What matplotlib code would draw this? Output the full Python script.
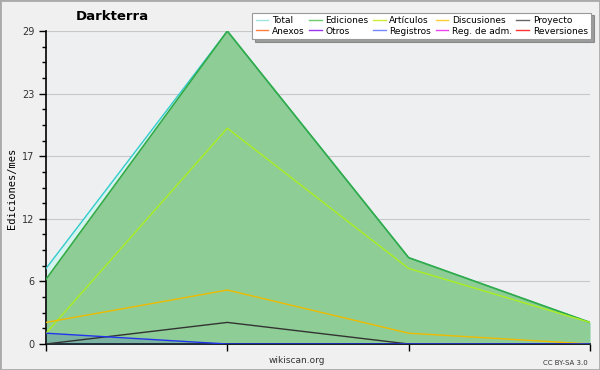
import numpy as np
import matplotlib.pyplot as plt
from matplotlib.lines import Line2D

# monthly edit counts (4 months)
months = [0, 1, 2, 3]
total = [7, 29, 8, 2]
ediciones = [6, 29, 8, 2]
articulos = [1, 20, 7, 2]
discusiones = [2, 5, 1, 0]
proyecto = [0, 2, 0, 0]
registros = [1, 0, 0, 0]

legend_names = ["Total", "Anexos", "Ediciones", "Otros", "Artículos", "Registros",
                "Discusiones", "Reg. de adm.", "Proyecto", "Reversiones"]
legend_colors = ["#9fe3e3", "#ff7f3f", "#6ccc6c", "#9933ee", "#ccee33", "#7788ff",
                 "#ffcc33", "#ee44ee", "#666666", "#ff3333"]

ymax = 29
yticks = [ymax * k / 5 for k in range(6)]
ylabels = [str(int(round(v))) for v in yticks]

fig = plt.figure(figsize=(6, 3.7), dpi=100, facecolor="#f0f0f0")
fig.patches.append(plt.Rectangle((0, 0), 1, 1, transform=fig.transFigure,
                                 fill=False, edgecolor="#aaaaaa", linewidth=2))
ax = fig.add_axes([0.0767, 0.0703, 0.9066, 0.8457])
ax.set_facecolor("#eeeff1")

ax.grid(axis="y", color="#c8c8c8", linewidth=0.8, zorder=0)
ax.set_axisbelow(True)

# filled areas
ax.fill_between(months, total, color="#d6f3f0", zorder=1)
ax.fill_between(months, ediciones, color="#7cc47f", alpha=0.8, linewidth=0, zorder=2)
ax.fill_between(months, registros, color="#4466cc", alpha=0.25, linewidth=0, zorder=3)

ax.plot(months, total, color="#33cccc", lw=1, zorder=4)
ax.plot(months, ediciones, color="#33aa44", lw=1.2, zorder=5)
ax.plot(months, articulos, color="#aaee22", lw=1, zorder=6)
ax.plot(months, discusiones, color="#eebb00", lw=1, zorder=6)
ax.plot(months, proyecto, color="#333333", lw=1, zorder=6)
ax.plot(months, registros, color="#2233ee", lw=1, zorder=6)

ax.set_xlim(0, 3)
ax.set_ylim(0, ymax)
ax.set_xticks(months)
ax.set_xticklabels([])
ax.set_yticks(yticks)
ax.set_yticklabels(ylabels, fontsize=7, color="#333333")
ax.set_yticks([ymax * k / 20 for k in range(21)], minor=True)
ax.tick_params(axis="y", which="major", length=5, width=1)
ax.tick_params(axis="y", which="minor", length=3, width=1)
ax.tick_params(axis="x", length=5, width=1, direction="out")
for s in ["top", "right"]:
    ax.spines[s].set_visible(False)
ax.spines["left"].set_linewidth(1.2)
ax.spines["bottom"].set_linewidth(1.2)

fig.text(0.02, 0.49, "Ediciones/mes", fontsize=7.5, family="DejaVu Sans Mono",
         rotation=90, ha="center", va="center")
fig.text(0.187, 0.955, "Darkterra", fontsize=9.5, fontweight="bold", ha="center", va="center")
fig.text(0.495, 0.027, "wikiscan.org", fontsize=6.5, ha="center", va="center", color="#333333")
fig.text(0.98, 0.02, "CC BY-SA 3.0", fontsize=5, ha="right", va="center", color="#333333")

handles = [Line2D([0], [0], color=c, lw=1) for c in legend_colors]
leg = fig.legend(handles, legend_names, ncol=5, loc="upper right",
                 bbox_to_anchor=(0.993, 0.978), fontsize=6.5, frameon=True,
                 fancybox=False, shadow=True, handlelength=1.4, handletextpad=0.4,
                 columnspacing=0.5, labelspacing=0.15, borderpad=0.4)
leg.get_frame().set_edgecolor("#999999")
leg.get_frame().set_linewidth(0.8)

fig.savefig("out.png", dpi=100, facecolor=fig.get_facecolor())
